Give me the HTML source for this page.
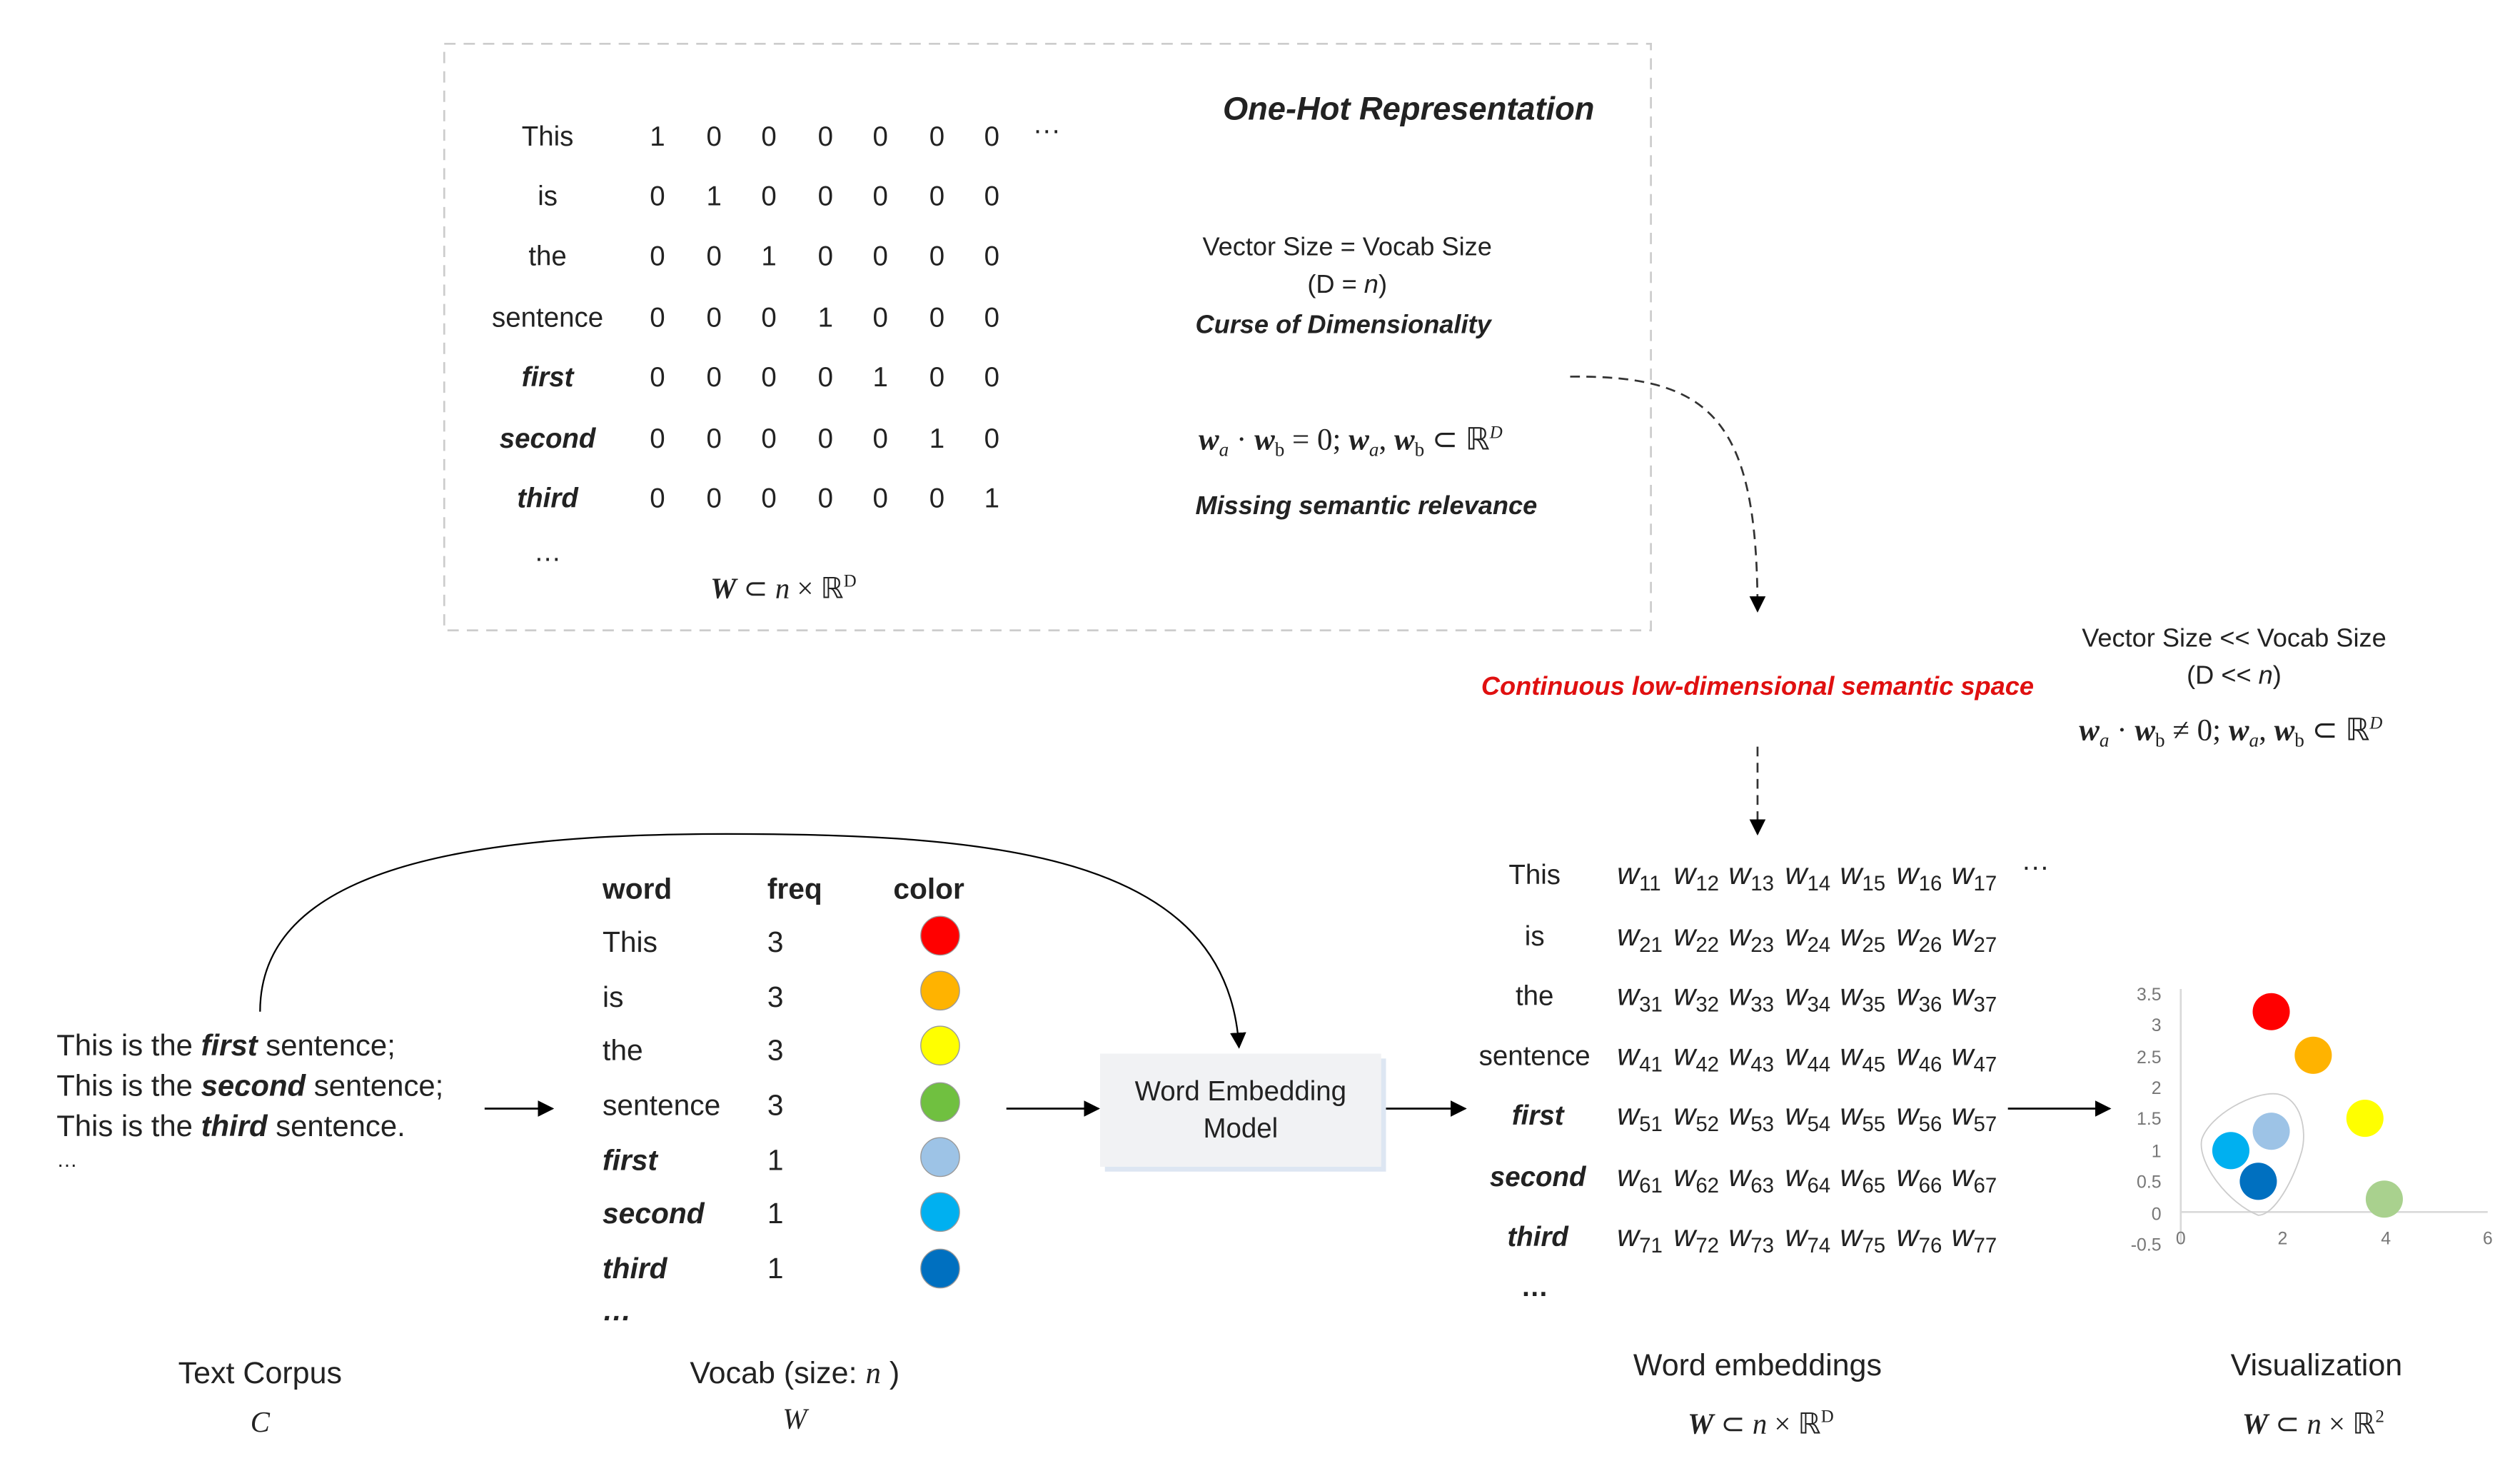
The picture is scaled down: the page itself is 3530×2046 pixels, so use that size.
<!DOCTYPE html>
<html><head><meta charset="utf-8"><style>
html,body{margin:0;padding:0;background:#fff;}
svg{display:block;}
text{font-family:"Liberation Sans",sans-serif;fill:#222;}
.s{font-family:"Liberation Serif",serif;}
.bi{font-weight:bold;font-style:italic;}
</style></head><body>
<svg width="3530" height="2046" viewBox="0 0 1560 904" xmlns="http://www.w3.org/2000/svg">
<defs>
<marker id="ah" markerWidth="10" markerHeight="10" refX="9" refY="5" orient="auto" markerUnits="userSpaceOnUse"><path d="M0,0 L10,5 L0,10 z" fill="#000"/></marker>
</defs>
<rect x="275" y="27" width="747" height="363" fill="none" stroke="#ccc" stroke-width="1.2" stroke-dasharray="7,5"/>
<g font-size="17" text-anchor="middle">
<text x="339" y="90">This</text><text x="339" y="127">is</text><text x="339" y="164">the</text>
<text x="339" y="202">sentence</text>
<text x="339" y="239" class="bi">first</text>
<text x="339" y="277" class="bi">second</text><text x="339" y="314" class="bi">third</text>
<text x="339" y="347">…</text><text x="648" y="86">···</text>
</g>
<g font-size="17" text-anchor="middle">
<text y="90"><tspan x="407">1</tspan><tspan x="442">0</tspan><tspan x="476">0</tspan><tspan x="511">0</tspan><tspan x="545">0</tspan><tspan x="580">0</tspan><tspan x="614">0</tspan></text>
<text y="127"><tspan x="407">0</tspan><tspan x="442">1</tspan><tspan x="476">0</tspan><tspan x="511">0</tspan><tspan x="545">0</tspan><tspan x="580">0</tspan><tspan x="614">0</tspan></text>
<text y="164"><tspan x="407">0</tspan><tspan x="442">0</tspan><tspan x="476">1</tspan><tspan x="511">0</tspan><tspan x="545">0</tspan><tspan x="580">0</tspan><tspan x="614">0</tspan></text>
<text y="202"><tspan x="407">0</tspan><tspan x="442">0</tspan><tspan x="476">0</tspan><tspan x="511">1</tspan><tspan x="545">0</tspan><tspan x="580">0</tspan><tspan x="614">0</tspan></text>
<text y="239"><tspan x="407">0</tspan><tspan x="442">0</tspan><tspan x="476">0</tspan><tspan x="511">0</tspan><tspan x="545">1</tspan><tspan x="580">0</tspan><tspan x="614">0</tspan></text>
<text y="277"><tspan x="407">0</tspan><tspan x="442">0</tspan><tspan x="476">0</tspan><tspan x="511">0</tspan><tspan x="545">0</tspan><tspan x="580">1</tspan><tspan x="614">0</tspan></text>
<text y="314"><tspan x="407">0</tspan><tspan x="442">0</tspan><tspan x="476">0</tspan><tspan x="511">0</tspan><tspan x="545">0</tspan><tspan x="580">0</tspan><tspan x="614">1</tspan></text>
</g>
<text x="485" y="370" class="s" font-size="18" text-anchor="middle"><tspan font-weight="bold" font-style="italic">W</tspan> ⊂ <tspan font-style="italic">n</tspan> × ℝ<tspan font-size="11" dy="-7">D</tspan></text>
<text x="872" y="74" class="bi" font-size="20" text-anchor="middle">One-Hot Representation</text>
<text x="834" y="158" font-size="16" text-anchor="middle">Vector Size = Vocab Size</text>
<text x="834" y="181" font-size="16" text-anchor="middle">(D = <tspan font-style="italic">n</tspan>)</text>
<text x="740" y="206" font-size="16" class="bi">Curse of Dimensionality</text>
<text x="742" y="278" class="s" font-size="19"><tspan font-weight="bold" font-style="italic">w</tspan><tspan font-style="italic" font-size="12" dy="4">a</tspan><tspan dy="-4"> · </tspan><tspan font-weight="bold" font-style="italic">w</tspan><tspan font-size="12" dy="4">b</tspan><tspan dy="-4"> = 0; </tspan><tspan font-weight="bold" font-style="italic">w</tspan><tspan font-style="italic" font-size="12" dy="4">a</tspan><tspan dy="-4">, </tspan><tspan font-weight="bold" font-style="italic">w</tspan><tspan font-size="12" dy="4">b</tspan><tspan dy="-4"> ⊂ ℝ</tspan><tspan font-style="italic" font-size="11" dy="-7">D</tspan></text>
<text x="740" y="318" font-size="16" class="bi">Missing semantic relevance</text>
<path d="M972,233 C1060,232 1088,260 1088,378" fill="none" stroke="#333" stroke-width="1.2" stroke-dasharray="6,4" marker-end="url(#ah)"/>
<text x="1088" y="430" font-size="16" class="bi" style="fill:#e01010" text-anchor="middle">Continuous low-dimensional semantic space</text>
<path d="M1088,462 L1088,516" stroke="#333" stroke-width="1.2" stroke-dasharray="6,4" marker-end="url(#ah)"/>
<text x="1383" y="400" font-size="16" text-anchor="middle">Vector Size &lt;&lt; Vocab Size</text>
<text x="1383" y="423" font-size="16" text-anchor="middle">(D &lt;&lt; <tspan font-style="italic">n</tspan>)</text>
<text x="1287" y="458" class="s" font-size="19"><tspan font-weight="bold" font-style="italic">w</tspan><tspan font-style="italic" font-size="12" dy="4">a</tspan><tspan dy="-4"> · </tspan><tspan font-weight="bold" font-style="italic">w</tspan><tspan font-size="12" dy="4">b</tspan><tspan dy="-4"> ≠ 0; </tspan><tspan font-weight="bold" font-style="italic">w</tspan><tspan font-style="italic" font-size="12" dy="4">a</tspan><tspan dy="-4">, </tspan><tspan font-weight="bold" font-style="italic">w</tspan><tspan font-size="12" dy="4">b</tspan><tspan dy="-4"> ⊂ ℝ</tspan><tspan font-style="italic" font-size="11" dy="-7">D</tspan></text>
<g font-size="17" text-anchor="middle">
<text x="950" y="547">This</text><text x="950" y="585">is</text><text x="950" y="622">the</text><text x="950" y="659">sentence</text>
<text x="952" y="696" class="bi">first</text><text x="952" y="734" class="bi">second</text><text x="952" y="771" class="bi">third</text>
<text x="950" y="802" font-weight="bold">…</text><text x="1260" y="542">···</text>
</g>
<g class="s" font-size="19" font-style="italic">
<text y="547"><tspan x="1001">w</tspan><tspan font-size="13" font-style="normal" dy="4">11</tspan><tspan x="1036" dy="-4">w</tspan><tspan font-size="13" font-style="normal" dy="4">12</tspan><tspan x="1070" dy="-4">w</tspan><tspan font-size="13" font-style="normal" dy="4">13</tspan><tspan x="1105" dy="-4">w</tspan><tspan font-size="13" font-style="normal" dy="4">14</tspan><tspan x="1139" dy="-4">w</tspan><tspan font-size="13" font-style="normal" dy="4">15</tspan><tspan x="1174" dy="-4">w</tspan><tspan font-size="13" font-style="normal" dy="4">16</tspan><tspan x="1208" dy="-4">w</tspan><tspan font-size="13" font-style="normal" dy="4">17</tspan></text>
<text y="585"><tspan x="1001">w</tspan><tspan font-size="13" font-style="normal" dy="4">21</tspan><tspan x="1036" dy="-4">w</tspan><tspan font-size="13" font-style="normal" dy="4">22</tspan><tspan x="1070" dy="-4">w</tspan><tspan font-size="13" font-style="normal" dy="4">23</tspan><tspan x="1105" dy="-4">w</tspan><tspan font-size="13" font-style="normal" dy="4">24</tspan><tspan x="1139" dy="-4">w</tspan><tspan font-size="13" font-style="normal" dy="4">25</tspan><tspan x="1174" dy="-4">w</tspan><tspan font-size="13" font-style="normal" dy="4">26</tspan><tspan x="1208" dy="-4">w</tspan><tspan font-size="13" font-style="normal" dy="4">27</tspan></text>
<text y="622"><tspan x="1001">w</tspan><tspan font-size="13" font-style="normal" dy="4">31</tspan><tspan x="1036" dy="-4">w</tspan><tspan font-size="13" font-style="normal" dy="4">32</tspan><tspan x="1070" dy="-4">w</tspan><tspan font-size="13" font-style="normal" dy="4">33</tspan><tspan x="1105" dy="-4">w</tspan><tspan font-size="13" font-style="normal" dy="4">34</tspan><tspan x="1139" dy="-4">w</tspan><tspan font-size="13" font-style="normal" dy="4">35</tspan><tspan x="1174" dy="-4">w</tspan><tspan font-size="13" font-style="normal" dy="4">36</tspan><tspan x="1208" dy="-4">w</tspan><tspan font-size="13" font-style="normal" dy="4">37</tspan></text>
<text y="659"><tspan x="1001">w</tspan><tspan font-size="13" font-style="normal" dy="4">41</tspan><tspan x="1036" dy="-4">w</tspan><tspan font-size="13" font-style="normal" dy="4">42</tspan><tspan x="1070" dy="-4">w</tspan><tspan font-size="13" font-style="normal" dy="4">43</tspan><tspan x="1105" dy="-4">w</tspan><tspan font-size="13" font-style="normal" dy="4">44</tspan><tspan x="1139" dy="-4">w</tspan><tspan font-size="13" font-style="normal" dy="4">45</tspan><tspan x="1174" dy="-4">w</tspan><tspan font-size="13" font-style="normal" dy="4">46</tspan><tspan x="1208" dy="-4">w</tspan><tspan font-size="13" font-style="normal" dy="4">47</tspan></text>
<text y="696"><tspan x="1001">w</tspan><tspan font-size="13" font-style="normal" dy="4">51</tspan><tspan x="1036" dy="-4">w</tspan><tspan font-size="13" font-style="normal" dy="4">52</tspan><tspan x="1070" dy="-4">w</tspan><tspan font-size="13" font-style="normal" dy="4">53</tspan><tspan x="1105" dy="-4">w</tspan><tspan font-size="13" font-style="normal" dy="4">54</tspan><tspan x="1139" dy="-4">w</tspan><tspan font-size="13" font-style="normal" dy="4">55</tspan><tspan x="1174" dy="-4">w</tspan><tspan font-size="13" font-style="normal" dy="4">56</tspan><tspan x="1208" dy="-4">w</tspan><tspan font-size="13" font-style="normal" dy="4">57</tspan></text>
<text y="734"><tspan x="1001">w</tspan><tspan font-size="13" font-style="normal" dy="4">61</tspan><tspan x="1036" dy="-4">w</tspan><tspan font-size="13" font-style="normal" dy="4">62</tspan><tspan x="1070" dy="-4">w</tspan><tspan font-size="13" font-style="normal" dy="4">63</tspan><tspan x="1105" dy="-4">w</tspan><tspan font-size="13" font-style="normal" dy="4">64</tspan><tspan x="1139" dy="-4">w</tspan><tspan font-size="13" font-style="normal" dy="4">65</tspan><tspan x="1174" dy="-4">w</tspan><tspan font-size="13" font-style="normal" dy="4">66</tspan><tspan x="1208" dy="-4">w</tspan><tspan font-size="13" font-style="normal" dy="4">67</tspan></text>
<text y="771"><tspan x="1001">w</tspan><tspan font-size="13" font-style="normal" dy="4">71</tspan><tspan x="1036" dy="-4">w</tspan><tspan font-size="13" font-style="normal" dy="4">72</tspan><tspan x="1070" dy="-4">w</tspan><tspan font-size="13" font-style="normal" dy="4">73</tspan><tspan x="1105" dy="-4">w</tspan><tspan font-size="13" font-style="normal" dy="4">74</tspan><tspan x="1139" dy="-4">w</tspan><tspan font-size="13" font-style="normal" dy="4">75</tspan><tspan x="1174" dy="-4">w</tspan><tspan font-size="13" font-style="normal" dy="4">76</tspan><tspan x="1208" dy="-4">w</tspan><tspan font-size="13" font-style="normal" dy="4">77</tspan></text>
</g>
<text x="1088" y="851" font-size="19" text-anchor="middle">Word embeddings</text>
<text x="1090" y="887" class="s" font-size="18" text-anchor="middle"><tspan font-weight="bold" font-style="italic">W</tspan> ⊂ <tspan font-style="italic">n</tspan> × ℝ<tspan font-size="11" dy="-7">D</tspan></text>
<g stroke="#d9d9d9" stroke-width="1.2"><line x1="1350" y1="612" x2="1350" y2="770"/><line x1="1350" y1="750" x2="1540" y2="750"/></g>
<g font-size="11" text-anchor="end">
<text x="1338" y="619" style="fill:#777">3.5</text><text x="1338" y="638" style="fill:#777">3</text><text x="1338" y="658" style="fill:#777">2.5</text><text x="1338" y="677" style="fill:#777">2</text><text x="1338" y="696" style="fill:#777">1.5</text><text x="1338" y="716" style="fill:#777">1</text><text x="1338" y="735" style="fill:#777">0.5</text><text x="1338" y="755" style="fill:#777">0</text><text x="1338" y="774" style="fill:#777">-0.5</text>
</g>
<g font-size="11" text-anchor="middle"><text x="1350" y="770" style="fill:#777">0</text><text x="1413" y="770" style="fill:#777">2</text><text x="1477" y="770" style="fill:#777">4</text><text x="1540" y="770" style="fill:#777">6</text></g>
<path d="M1398,752 C1380,745 1360,720 1363,705 C1368,690 1395,675 1410,677 C1425,680 1428,700 1425,712 C1420,730 1408,752 1398,752 z" fill="none" stroke="#ccc" stroke-width="0.8"/>
<circle cx="1406" cy="626" r="11.5" fill="#ff0000"/>
<circle cx="1432" cy="653" r="11.5" fill="#ffb300"/>
<circle cx="1464" cy="692" r="11.5" fill="#ffff00"/>
<circle cx="1476" cy="742" r="11.5" fill="#a9d18e"/>
<circle cx="1406" cy="700" r="11.5" fill="#9dc3e6"/>
<circle cx="1381" cy="712" r="11.5" fill="#00b0f0"/>
<circle cx="1398" cy="731" r="11.5" fill="#0070c0"/>
<text x="1434" y="851" font-size="19" text-anchor="middle">Visualization</text>
<text x="1432" y="887" class="s" font-size="18" text-anchor="middle"><tspan font-weight="bold" font-style="italic">W</tspan> ⊂ <tspan font-style="italic">n</tspan> × ℝ<tspan font-size="11" dy="-7">2</tspan></text>
<g stroke="#000" stroke-width="1.2">
<line x1="1243" y1="686" x2="1306" y2="686" marker-end="url(#ah)"/>
<line x1="855" y1="686" x2="907" y2="686" marker-end="url(#ah)"/>
<line x1="623" y1="686" x2="680" y2="686" marker-end="url(#ah)"/>
<line x1="300" y1="686" x2="342" y2="686" marker-end="url(#ah)"/>
</g>
<path d="M161,626 C161,540 280,516 450,516 C620,516 760,530 767,648" fill="none" stroke="#000" stroke-width="1" marker-end="url(#ah)"/>
<rect x="684" y="655" width="174" height="70" fill="#dde6f2"/>
<rect x="681" y="652" width="174" height="70" fill="#f1f2f4"/>
<text x="768" y="681" font-size="17" text-anchor="middle">Word Embedding</text>
<text x="768" y="704" font-size="17" text-anchor="middle">Model</text>
<g font-size="18">
<text x="373" y="556" font-weight="bold">word</text><text x="475" y="556" font-weight="bold">freq</text><text x="553" y="556" font-weight="bold">color</text>
<text x="373" y="589">This</text><text x="373" y="623">is</text><text x="373" y="656">the</text><text x="373" y="690">sentence</text>
<text x="373" y="724" class="bi">first</text><text x="373" y="757" class="bi">second</text><text x="373" y="791" class="bi">third</text><text x="373" y="817" class="bi">…</text>
<text x="475" y="589">3</text><text x="475" y="623">3</text><text x="475" y="656">3</text><text x="475" y="690">3</text><text x="475" y="724">1</text><text x="475" y="757">1</text><text x="475" y="791">1</text>
</g>
<g stroke="#999" stroke-width="0.6">
<circle cx="582" cy="579" r="12" fill="#ff0000"/>
<circle cx="582" cy="613" r="12" fill="#ffb300"/>
<circle cx="582" cy="647" r="12" fill="#ffff00"/>
<circle cx="582" cy="682" r="12" fill="#70c040"/>
<circle cx="582" cy="716" r="12" fill="#9dc3e6"/>
<circle cx="582" cy="750" r="12" fill="#00b0f0"/>
<circle cx="582" cy="785" r="12" fill="#0070c0"/>
</g>
<g font-size="18.5">
<text x="35" y="653">This is the <tspan class="bi">first</tspan> sentence;</text>
<text x="35" y="678">This is the <tspan class="bi">second</tspan> sentence;</text>
<text x="35" y="703">This is the <tspan class="bi">third</tspan> sentence.</text>
<text x="35" y="722" font-size="13">…</text>
</g>
<text x="161" y="856" font-size="19" text-anchor="middle">Text Corpus</text>
<text x="161" y="886" class="s" font-size="18" font-style="italic" text-anchor="middle">C</text>
<text x="492" y="856" font-size="19" text-anchor="middle">Vocab (size: <tspan class="s" font-style="italic">n</tspan> )</text>
<text x="492" y="884" class="s" font-size="18" font-style="italic" text-anchor="middle">W</text>
</svg>
</body></html>
